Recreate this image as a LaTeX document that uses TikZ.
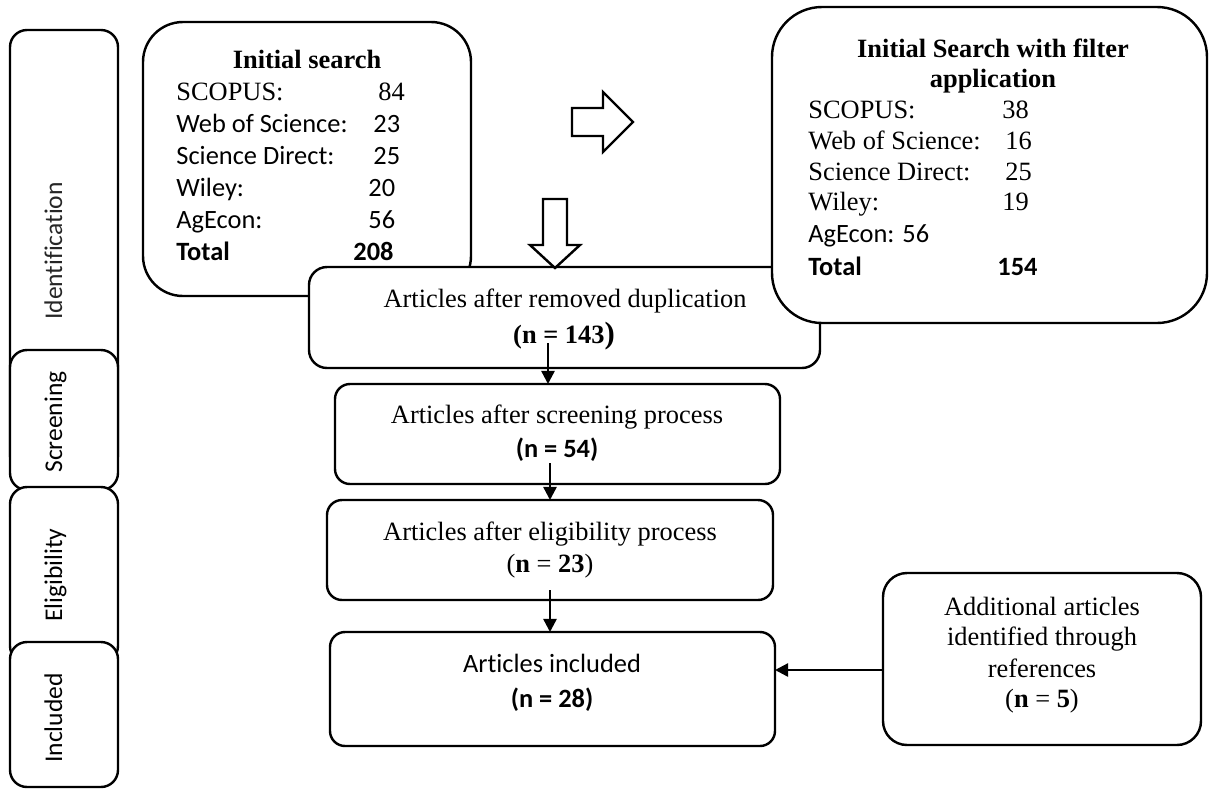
\documentclass[tikz,border=0pt]{standalone}
\usepackage{fontspec}
\setmainfont{Liberation Serif}
\newfontfamily\calfont[Ligatures=NoCommon]{Carlito}
\usetikzlibrary{arrows.meta}
\begin{document}
\begin{tikzpicture}[x=0.4545pt,y=-0.4545pt,
  bx/.style n args={3}{draw, line width=1.1pt, fill=white, inner sep=0pt, outer sep=0pt,
    minimum width=#1*0.4545pt, minimum height=#2*0.4545pt, rounded corners=#3*0.4545pt},
  tx/.style={anchor=base, inner sep=0pt, font=\fontsize{12}{14}\selectfont},
  lx/.style={anchor=base west, inner sep=0pt, font=\fontsize{12}{14}\selectfont},
  side/.style={anchor=base, rotate=90, inner sep=0pt, text=black, font=\calfont\fontsize{11.6}{13}\selectfont},
  arr/.style={-{Triangle[length=6pt,width=6pt]}, line width=1.1pt},
  blockarrow/.style={draw, line width=1.1pt, fill=white, line join=miter}
]
\useasboundingbox (0,0) rectangle (1210,788);

% left phase column
\node[bx={108}{442}{17}] (ident) at (64,251) {};
\node[bx={108}{140}{17}] (scrL) at (64,420) {};
\node[bx={108}{176}{17}] (eligL) at (64,575) {};
\node[bx={108}{145}{17}] (inclL) at (64,714.5) {};
\node[side, text=black!85] (identT) at (62,251) {Identification};
\node[side] (scrT) at (62,422) {Screening};
\node[side] (eligT) at (62,575) {Eligibility};
\node[side] (inclT) at (62,718) {Included};

% boxes
\node[bx={328}{274}{40}] (init) at (307,159) {};
\node[bx={511}{101}{18}] (dup) at (564.5,317.5) {};
\node[bx={435}{316}{50}] (filt) at (989.5,165) {};
\node[bx={445}{100}{15}] (scr) at (557.5,434) {};
\node[bx={446}{100}{15}] (elig) at (550,550) {};
\node[bx={445}{114}{15}] (incl) at (552.5,689) {};
\node[bx={318}{172}{24}] (add) at (1042,659) {};

% Initial search text
\node[tx] (i0) at (307,68) {\bfseries Initial search};
\node[lx] (i1) at (176,100) {SCOPUS:};
\node[lx] (i2) at (176,132) {\calfont Web of Science:};
\node[lx] (i3) at (176,164) {\calfont Science Direct:};
\node[lx] (i4) at (176,196) {\calfont Wiley:};
\node[lx] (i5) at (176,228) {\calfont AgEcon:};
\node[lx] (i6) at (176,260) {\calfont\bfseries Total};
\node[lx] (n1) at (378,100) {84};
\node[lx] (n2) at (373,132) {\calfont 23};
\node[lx] (n3) at (373,164) {\calfont 25};
\node[lx] (n4) at (368,196) {\calfont 20};
\node[lx] (n5) at (368,228) {\calfont 56};
\node[lx] (n6) at (353,260) {\calfont\bfseries 208};

% filter box text
\node[tx] (f0) at (993,57) {\bfseries Initial Search with filter};
\node[tx] (f0b) at (993,87) {\bfseries application};
\node[lx] (f1) at (808,118) {SCOPUS:};
\node[lx] (f2) at (808,149) {Web of Science:};
\node[lx] (f3) at (808,180) {Science Direct:};
\node[lx] (f4) at (808,210) {Wiley:};
\node[lx] (f5) at (808,242) {\calfont AgEcon: 56};
\node[lx] (f6) at (808,275) {\calfont\bfseries Total};
\node[lx] (m1) at (1002,118) {38};
\node[lx] (m2) at (1005,149) {16};
\node[lx] (m3) at (1005,180) {25};
\node[lx] (m4) at (1002,210) {19};
\node[lx] (m6) at (997,275) {\calfont\bfseries 154};

% flow box text
\node[tx] (d1) at (565,307) {Articles after removed duplication};
\node[tx] (d2) at (564,343) {\bfseries (n = 143{\fontsize{14}{14}\selectfont)}};
\node[tx] (s1) at (557,423) {Articles after screening process};
\node[tx] (s2) at (557,457) {\calfont\bfseries (n = 54)};
\node[tx] (e1) at (550,540) {Articles after eligibility process};
\node[tx] (e2) at (550,572) {(\textbf{n} = \textbf{23})};
\node[tx] (c1) at (552,672) {\calfont Articles included};
\node[tx] (c2) at (552,707) {\calfont\bfseries (n = 28)};
\node[tx] (a1) at (1042,615) {Additional articles};
\node[tx] (a2) at (1042,645) {identified through};
\node[tx] (a3) at (1042,677) {references};
\node[tx] (a4) at (1042,707) {(\textbf{n} = \textbf{5})};

% block arrows
\draw[blockarrow] (572,108) -- (603,108) -- (603,92) -- (633,122) -- (603,152) -- (603,136) -- (572,136) -- cycle;
\draw[blockarrow] (543,199) -- (567,199) -- (567,245) -- (580,245) -- (555,268) -- (530,245) -- (543,245) -- cycle;

% connectors
\coordinate (c1s) at ([shift={(-16.5,-25)}]dup.south);
\draw[arr] (c1s) -- (c1s |- scr.north);
\coordinate (c2s) at ([shift={(-7.5,-21)}]scr.south);
\draw[arr] (c2s) -- (c2s |- elig.north);
\coordinate (c3s) at ([shift={(0,-10)}]elig.south);
\draw[arr] (c3s) -- (c3s |- incl.north);
\coordinate (c4s) at ([shift={(0,11)}]add.west);
\draw[arr] (c4s) -- (c4s -| incl.east);
\end{tikzpicture}
\end{document}
